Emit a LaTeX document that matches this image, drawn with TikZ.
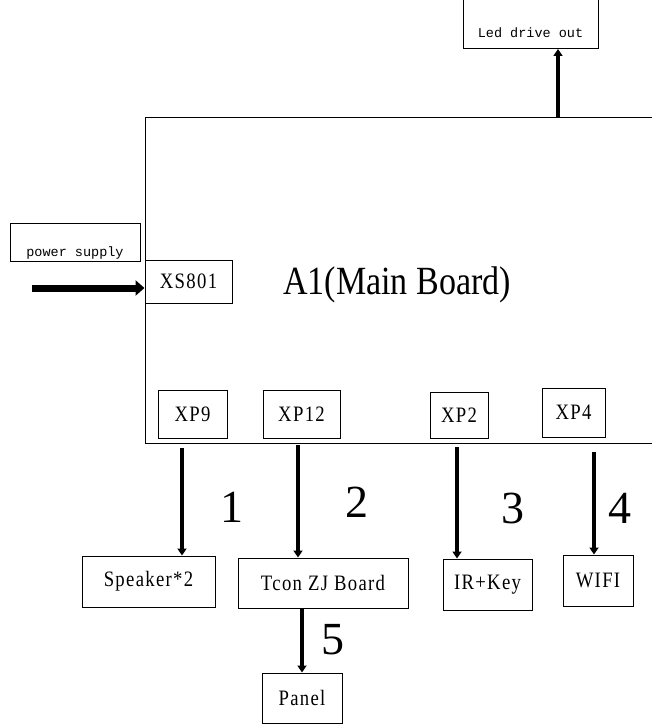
\documentclass[tikz,border=0pt]{standalone}
\usepackage{fontspec}
\setmainfont{Liberation Serif}
\newfontfamily\portfont[FakeStretch=0.85,LetterSpace=6]{Liberation Serif}
\newfontfamily\notefont{Liberation Mono}
\newfontfamily\titlefont[FakeStretch=0.85]{Liberation Serif}
\usetikzlibrary{arrows.meta,positioning,calc}

\begin{document}
\begin{tikzpicture}[
  x=1pt, y=-1pt,
  box/.style={draw, line width=1pt, inner sep=0pt, align=center, font=\portfont\fontsize{22}{24}\selectfont},
  note/.style={draw, line width=1pt, inner xsep=0pt, anchor=south, font=\notefont\fontsize{13.5}{15}\selectfont},
  board/.style={draw, line width=1pt, inner sep=0pt, anchor=north west},
  flow/.style={-{Triangle[width=9pt,length=7pt]}, line width=4pt},
  bigflow/.style={-{Triangle[width=15pt,length=9pt]}, line width=7pt},
  num/.style={inner sep=0pt, font=\fontsize{46}{50}\selectfont}
]
\useasboundingbox (0,0) rectangle (652,725);
\clip (0,0) rectangle (652,725);

% main board and its ports
\node[board, minimum width=540pt, minimum height=326pt] (main) at (145,117) {};
\node[font=\titlefont\fontsize{40}{44}\selectfont, inner sep=0pt] (main-title) at (397,285) {A1(Main Board)};
\node[box, minimum width=87pt, minimum height=43pt] (xs801) at (188.5,281.5) {XS801};
\node[box, minimum width=69pt, minimum height=48pt] (xp9) at (192.5,414) {XP9};
\node[box, minimum width=77pt, minimum height=48pt] (xp12) at (301.5,414) {XP12};
\node[box, minimum width=58pt, minimum height=46pt] (xp2) at (459,415) {XP2};
\node[box, minimum width=63pt, minimum height=49pt] (xp4) at (573.5,412.5) {XP4};

% outside boxes
\node[note, minimum width=135pt, inner ysep=3pt, text height=60pt, text depth=8pt] (led) at (530.5,49) {Led drive out};
\node[note, minimum width=130pt, inner ysep=2pt, text height=31pt, text depth=3pt] (psu) at (75,262) {power supply};
\node[box, minimum width=133pt, minimum height=51pt] (spk) at (148.5,581.5) {Speaker*2};
\node[box, minimum width=170pt, minimum height=50pt] (tcon) at (323,583) {Tcon ZJ Board};
\node[box, minimum width=89pt, minimum height=51pt] (irkey) at (487.5,584.5) {IR+Key};
\node[box, minimum width=70pt, minimum height=51pt] (wifi) at (598,580.5) {WIFI};
\node[box, minimum width=80pt, minimum height=50pt] (panel) at (302,698) {Panel};

% taps
\coordinate (led-tap) at (558,117);
\coordinate (psu-tap) at (32,288);
\coordinate (xp9-tap) at (182,448);
\coordinate (xp12-tap) at (298,445);
\coordinate (xp2-tap) at (457,447);
\coordinate (xp4-tap) at (594,452);

\draw[flow] (led-tap) -- (led-tap |- led.south);
\draw[bigflow] (psu-tap) -- (psu-tap -| xs801.west);
\draw[flow] (xp9-tap) -- (xp9-tap |- spk.north);
\draw[flow] (xp12-tap) -- (xp12-tap |- tcon.north);
\draw[flow] (xp2-tap) -- (xp2-tap |- irkey.north);
\draw[flow] (xp4-tap) -- (xp4-tap |- wifi.north);
\draw[flow] (panel |- tcon.south) -- (panel.north);

\node[num] (n1) at (232,507) {1};
\node[num] (n2) at (357,502) {2};
\node[num] (n3) at (513,508) {3};
\node[num] (n4) at (620,508) {4};
\node[num] (n5) at (333,640) {5};
\end{tikzpicture}
\end{document}
